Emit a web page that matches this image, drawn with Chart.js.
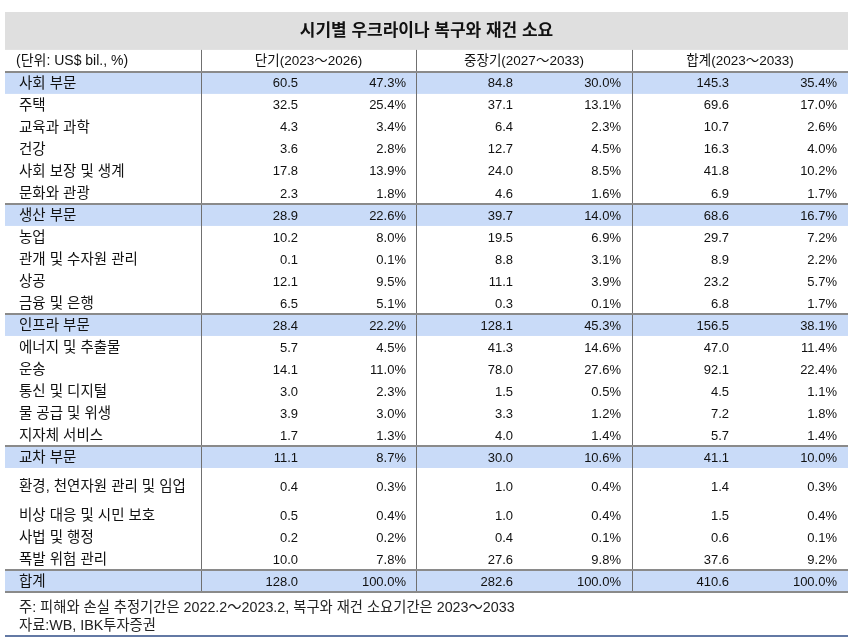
<!DOCTYPE html>
<html lang="ko">
<head>
<meta charset="utf-8">
<title>시기별 우크라이나 복구와 재건 소요</title>
<script src="https://cdn.jsdelivr.net/npm/chart.js@4/dist/chart.umd.min.js"></script>
<style>
    html, body { margin: 0; padding: 0; background: #fff; }
    #wrap { width: 853px; height: 640px; }
</style>
</head>
<body>
<div id="wrap"><canvas id="table"></canvas></div>
<script>
// Data
const categories = [
    '사회 부문', '주택', '교육과 과학', '건강', '사회 보장 및 생계', '문화와 관광',
    '생산 부문', '농업', '관개 및 수자원 관리', '상공', '금융 및 은행',
    '인프라 부문', '에너지 및 추출물', '운송', '통신 및 디지털', '물 공급 및 위생', '지자체 서비스',
    '교차 부문', '환경, 천연자원 관리 및 임업', '비상 대응 및 시민 보호', '사법 및 행정', '폭발 위험 관리',
    '합계'
];
const shortTerm  = [60.5, 32.5, 4.3, 3.6, 17.8, 2.3, 28.9, 10.2, 0.1, 12.1, 6.5, 28.4, 5.7, 14.1, 3.0, 3.9, 1.7, 11.1, 0.4, 0.5, 0.2, 10.0, 128.0];
const shortShare = [47.3, 25.4, 3.4, 2.8, 13.9, 1.8, 22.6, 8.0, 0.1, 9.5, 5.1, 22.2, 4.5, 11.0, 2.3, 3.0, 1.3, 8.7, 0.3, 0.4, 0.2, 7.8, 100.0];
const midTerm    = [84.8, 37.1, 6.4, 12.7, 24.0, 4.6, 39.7, 19.5, 8.8, 11.1, 0.3, 128.1, 41.3, 78.0, 1.5, 3.3, 4.0, 30.0, 1.0, 1.0, 0.4, 27.6, 282.6];
const midShare   = [30.0, 13.1, 2.3, 4.5, 8.5, 1.6, 14.0, 6.9, 3.1, 3.9, 0.1, 45.3, 14.6, 27.6, 0.5, 1.2, 1.4, 10.6, 0.4, 0.4, 0.1, 9.8, 100.0];
const totalTerm  = [145.3, 69.6, 10.7, 16.3, 41.8, 6.9, 68.6, 29.7, 8.9, 23.2, 6.8, 156.5, 47.0, 92.1, 4.5, 7.2, 5.7, 41.1, 1.4, 1.5, 0.6, 37.6, 410.6];
const totalShare = [35.4, 17.0, 2.6, 4.0, 10.2, 1.7, 16.7, 7.2, 2.2, 5.7, 1.7, 38.1, 11.4, 22.4, 1.1, 1.8, 1.4, 10.0, 0.3, 0.4, 0.1, 9.2, 100.0];
const periods = ['단기(2023～2026)', '중장기(2027～2033)', '합계(2023～2033)'];
const sectorRows = ['사회 부문', '생산 부문', '인프라 부문', '교차 부문', '합계'];
const unitLabel = '(단위: US$ bil., %)';
const notes = ['주: 피해와 손실 추정기간은 2022.2～2023.2, 복구와 재건 소요기간은 2023～2033', '자료:WB, IBK투자증권'];

// Layout (style only)
const FONT = '"Liberation Sans", "Noto Sans CJK KR", sans-serif';
const colEdges = [0, 196, 411, 627, 843];
const rowUnits = categories.map(c => c.startsWith('환경') ? 36 / 22 : 1);
const rowTops = [];
rowUnits.reduce((acc, u, i) => { rowTops[i] = acc; return acc + u; }, 0);
const rowTotal = rowUnits.reduce((a, b) => a + b, 0);

const tablePlugin = {
    id: 'tablePlugin',
    beforeDraw(chart) {
        const { ctx, chartArea: area, scales: { x, y } } = chart;
        const headTop = area.top - 22;
        ctx.save();
        // title band
        ctx.fillStyle = '#dfdfdf';
        ctx.fillRect(x.getPixelForValue(0), 12, x.getPixelForValue(843) - x.getPixelForValue(0), headTop - 12);
        // sector bands
        ctx.fillStyle = '#c9dbf8';
        categories.forEach((c, i) => {
            if (!sectorRows.includes(c)) return;
            const top = y.getPixelForValue(rowTops[i]);
            const bottom = y.getPixelForValue(rowTops[i] + rowUnits[i]);
            ctx.fillRect(x.getPixelForValue(0), top, x.getPixelForValue(843) - x.getPixelForValue(0), bottom - top);
        });
        ctx.restore();
    },
    afterDraw(chart) {
        const { ctx, chartArea: area, scales: { x, y } } = chart;
        const headTop = area.top - 22;
        const left = x.getPixelForValue(0);
        const right = x.getPixelForValue(843);
        ctx.save();

        // vertical lines
        ctx.strokeStyle = '#707070';
        ctx.lineWidth = 1;
        colEdges.slice(1, 4).forEach(v => {
            const px = Math.round(x.getPixelForValue(v)) + 0.5;
            ctx.beginPath();
            ctx.moveTo(px, headTop);
            ctx.lineTo(px, area.bottom);
            ctx.stroke();
        });

        // horizontal lines above sector rows and at the bottom
        ctx.strokeStyle = '#8a8a8a';
        ctx.lineWidth = 2;
        const hLine = py => {
            ctx.beginPath();
            ctx.moveTo(left, py);
            ctx.lineTo(right, py);
            ctx.stroke();
        };
        categories.forEach((c, i) => {
            if (sectorRows.includes(c)) hLine(y.getPixelForValue(rowTops[i]));
        });
        hLine(y.getPixelForValue(rowTotal));

        // header row
        ctx.fillStyle = '#111';
        ctx.textBaseline = 'middle';
        ctx.textAlign = 'left';
        ctx.font = '14px ' + FONT;
        ctx.fillText(unitLabel, left + 11, headTop + 11);
        ctx.font = '13.5px ' + FONT;
        ctx.textAlign = 'center';
        periods.forEach((p, k) => {
            const cx = (x.getPixelForValue(colEdges[k + 1]) + x.getPixelForValue(colEdges[k + 2])) / 2;
            ctx.fillText(p, cx, headTop + 11);
        });

        // body cells
        const cols = [[shortTerm, shortShare], [midTerm, midShare], [totalTerm, totalShare]];
        categories.forEach((c, i) => {
            const cy = y.getPixelForValue(rowTops[i] + rowUnits[i] / 2) + 1;
            ctx.font = '14.5px ' + FONT;
            ctx.textAlign = 'left';
            ctx.fillText(c, left + 14, cy);
            ctx.font = '13px ' + FONT;
            ctx.textAlign = 'right';
            cols.forEach(([vals, shares], k) => {
                const base = colEdges[k + 1];
                ctx.fillText(vals[i].toFixed(1), x.getPixelForValue(base + 97), cy);
                ctx.fillText(shares[i].toFixed(1) + '%', x.getPixelForValue(base + 205), cy);
            });
        });

        // notes
        ctx.textAlign = 'left';
        ctx.fillStyle = '#222';
        ctx.font = '14.3px ' + FONT;
        notes.forEach((n, k) => ctx.fillText(n, left + 14, area.bottom + 16 + k * 18));

        // bottom rule
        ctx.strokeStyle = '#2f4d86';
        ctx.lineWidth = 1.5;
        hLine(area.bottom + 44);
        ctx.restore();
    }
};

new Chart(document.getElementById('table'), {
    type: 'scatter',
    data: { datasets: [] },
    options: {
        responsive: true,
        maintainAspectRatio: false,
        animation: false,
        layout: { padding: { top: 12, left: 5, right: 5, bottom: 48 } },
        scales: {
            x: { type: 'linear', min: 0, max: 843, display: false },
            y: { type: 'linear', min: 0, max: rowTotal, reverse: true, display: false }
        },
        plugins: {
            legend: { display: false },
            tooltip: { enabled: false },
            title: {
                display: true,
                text: '시기별 우크라이나 복구와 재건 소요',
                color: '#111',
                font: { family: FONT, size: 17, weight: 'bold' },
                padding: { top: 9.5, bottom: 30 }
            }
        }
    },
    plugins: [tablePlugin]
});
</script>
</body>
</html>
